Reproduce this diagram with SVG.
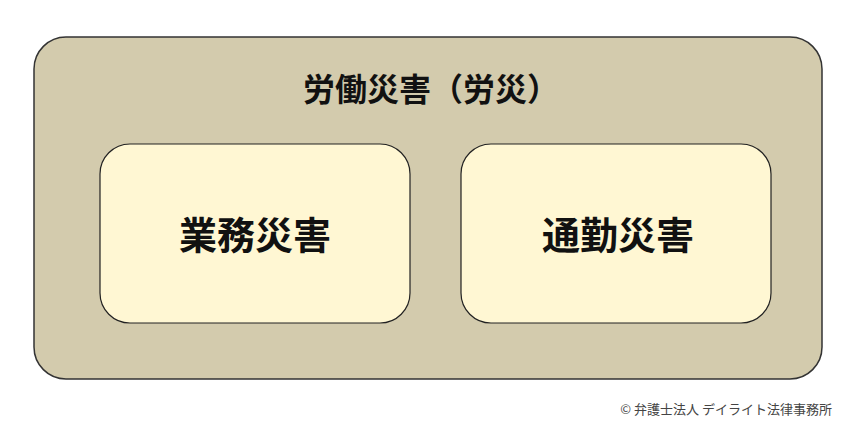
<svg xmlns="http://www.w3.org/2000/svg" width="850" height="437" viewBox="0 0 850 437">
<style>
.t{font-family:"Noto Sans CJK JP","Noto Sans CJK SC",sans-serif;font-weight:bold;fill:#111;text-anchor:middle}
.box{fill:#fff7d3;stroke:#222;stroke-width:1.2}
</style>
<rect width="850" height="437" fill="#ffffff"/>
<g id="rousai">
<rect x="34" y="37" width="788" height="342" rx="32" ry="32" fill="#d3cbad" stroke="#333" stroke-width="1.5"/>
<text class="t" x="431" y="101" font-size="32">労働災害（労災）</text>
</g>
<g id="gyomu">
<rect class="box" x="100" y="144" width="310" height="179" rx="30" ry="30"/>
<text class="t" x="255" y="249" font-size="38">業務災害</text>
</g>
<g id="tsukin">
<rect class="box" x="461" y="144" width="310" height="179" rx="30" ry="30"/>
<text class="t" x="618" y="249" font-size="38">通勤災害</text>
</g>
<g id="connectors"/>
<text x="832" y="414" font-size="13" fill="#444" text-anchor="end" font-family="&quot;Noto Sans CJK JP&quot;,sans-serif">© 弁護士法人 デイライト法律事務所</text>
</svg>
